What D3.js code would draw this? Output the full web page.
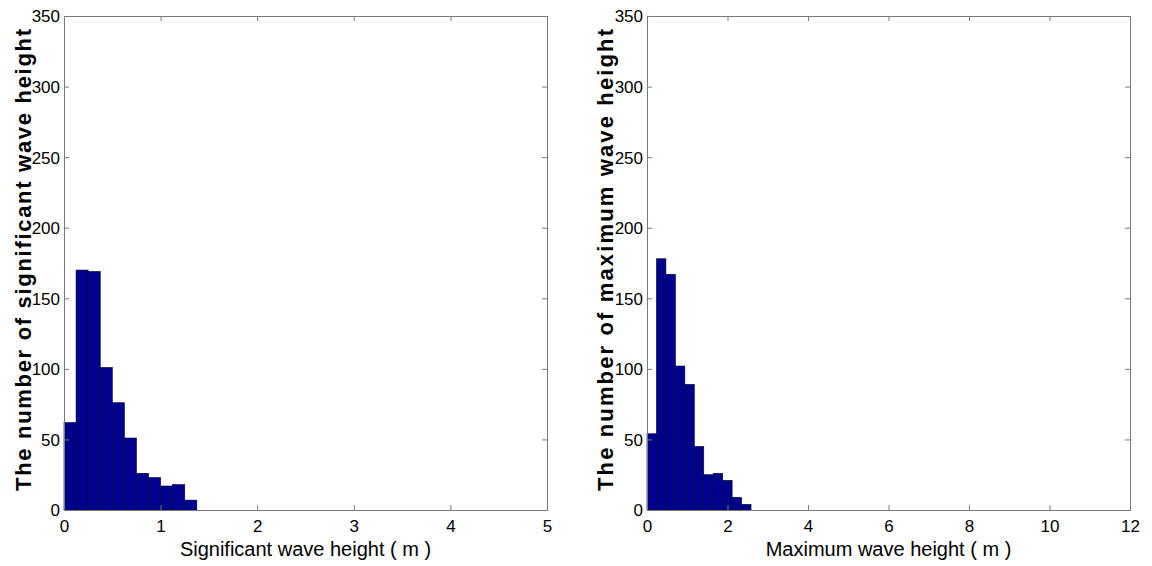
<!DOCTYPE html>
<html>
<head>
<meta charset="utf-8">
<script src="https://cdn.jsdelivr.net/npm/d3@7"></script>
<style>
  html, body { margin: 0; padding: 0; background: #fff; }
  svg { display: block; }
  text { font-family: "Liberation Sans", Arial, sans-serif; fill: #000; }
</style>
</head>
<body>
<svg id="chart" width="1152" height="566"></svg>
<script>
// ---- Data ----
const sigBinEdges = [0, 0.125, 0.25, 0.375, 0.5, 0.625, 0.75, 0.875, 1.0, 1.125, 1.25, 1.375];
const sigCounts   = [62, 170, 169, 101, 76, 51, 26, 23, 17, 18, 7];
const maxBinEdges = [0, 0.235, 0.47, 0.705, 0.94, 1.175, 1.41, 1.645, 1.88, 2.115, 2.35, 2.585];
const maxCounts   = [54, 178, 167, 102, 89, 45, 25, 26, 21, 9, 4];
const sigXTicks = [0, 1, 2, 3, 4, 5];
const maxXTicks = [0, 2, 4, 6, 8, 10, 12];
const yTicks = [0, 50, 100, 150, 200, 250, 300, 350];

const panels = [
  { left: 64, right: 547, xMax: 5, xTicks: sigXTicks, edges: sigBinEdges, counts: sigCounts,
    xLabel: "Significant wave height ( m )", yLabel: "The number of significant wave height", yLabelX: 23 },
  { left: 647, right: 1130, xMax: 12, xTicks: maxXTicks, edges: maxBinEdges, counts: maxCounts,
    xLabel: "Maximum wave height ( m )", yLabel: "The number of maximum wave height", yLabelX: 605 }
];

const svg = d3.select("#chart");
const plotTop = 16, plotBottom = 510;
const axisColor = "#7a7a7a";

panels.forEach(p => {
  const x = d3.scaleLinear().domain([0, p.xMax]).range([p.left, p.right]);
  const y = d3.scaleLinear().domain([0, 350]).range([plotBottom, plotTop]);
  const g = svg.append("g");

  // bars
  const bins = p.counts.map((c, i) => ({ x0: p.edges[i], x1: p.edges[i + 1], c }));
  g.selectAll("rect.bar").data(bins).enter().append("rect")
    .attr("class", "bar")
    .attr("x", d => x(d.x0))
    .attr("y", d => y(d.c))
    .attr("width", d => x(d.x1) - x(d.x0))
    .attr("height", d => y(0) - y(d.c))
    .attr("fill", "#00008c")
    .attr("stroke", "#000033")
    .attr("stroke-width", 0.6);

  // axes
  const tick = 5;
  const fmt = d3.format("d");
  const xb = g.append("g").attr("transform", `translate(0,${plotBottom})`)
    .call(d3.axisBottom(x).tickValues(p.xTicks).tickSize(-tick).tickPadding(8).tickFormat(fmt));
  const xt = g.append("g").attr("transform", `translate(0,${plotTop})`)
    .call(d3.axisTop(x).tickValues(p.xTicks).tickSize(-tick).tickFormat(""));
  const yl = g.append("g").attr("transform", `translate(${p.left},0)`)
    .call(d3.axisLeft(y).tickValues(yTicks).tickSize(-tick).tickPadding(4).tickFormat(fmt));
  const yr = g.append("g").attr("transform", `translate(${p.right},0)`)
    .call(d3.axisRight(y).tickValues(yTicks).tickSize(-tick).tickFormat(""));

  [xb, xt, yl, yr].forEach(a => {
    a.select(".domain").attr("stroke", axisColor).attr("stroke-width", 1);
    a.selectAll(".tick line").attr("stroke", axisColor);
    a.selectAll(".tick text").attr("font-size", 17).attr("font-family", "Liberation Sans, Arial, sans-serif").attr("fill", "#000");
  });
  xb.selectAll(".tick text").attr("dy", "0.85em");
  yl.selectAll(".tick text").attr("dy", "0.35em");

  // labels
  g.append("text")
    .attr("x", (p.left + p.right) / 2)
    .attr("y", 556)
    .attr("text-anchor", "middle")
    .attr("font-size", 20)
    .text(p.xLabel);

  g.append("text")
    .attr("transform", `translate(${p.yLabelX},260) rotate(-90)`)
    .attr("text-anchor", "middle")
    .attr("dy", "0.35em")
    .attr("font-size", 22)
    .attr("font-weight", "bold")
    .attr("textLength", 462)
    .attr("lengthAdjust", "spacing")
    .text(p.yLabel);
});
</script>
</body>
</html>
